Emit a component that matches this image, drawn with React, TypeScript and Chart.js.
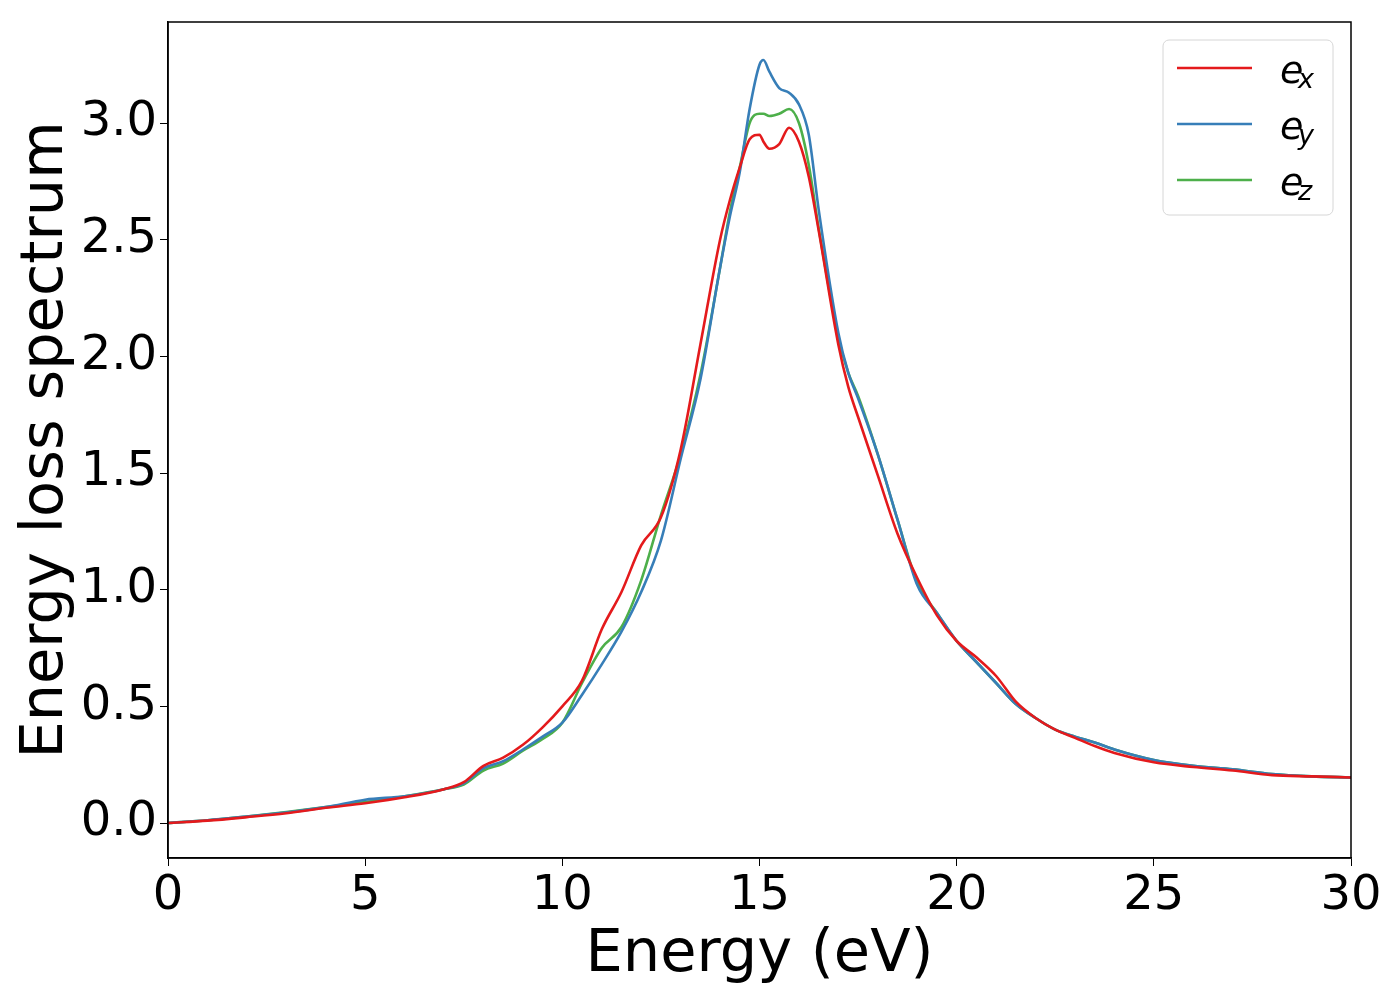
import React, { useEffect, useRef } from "react";
import { Chart, registerables, Plugin } from "chart.js";

Chart.register(...registerables);

// photon energy grid (eV)
const energies = [
  0, 1, 2, 3, 4, 5, 6, 7, 7.5, 8, 8.5, 9, 9.5, 10, 10.5, 11, 11.5, 12, 12.5, 13, 13.5, 14,
  14.25, 14.5, 14.75, 15, 15.1, 15.25, 15.5, 15.75, 16, 16.25, 16.5, 17, 17.25, 17.5, 18,
  18.5, 19, 19.5, 20, 20.5, 21, 21.5, 22, 22.5, 23, 23.5, 24, 25, 26, 27, 28, 29, 30,
];

const lossX = [
  0, 0.01, 0.025, 0.042, 0.065, 0.085, 0.11, 0.145, 0.175, 0.245, 0.28, 0.335, 0.41, 0.5,
  0.61, 0.83, 0.99, 1.19, 1.31, 1.6, 2.05, 2.5, 2.67, 2.81, 2.93, 2.95, 2.92, 2.89, 2.91,
  2.98, 2.92, 2.77, 2.54, 2.05, 1.87, 1.74, 1.49, 1.24, 1.05, 0.89, 0.78, 0.71, 0.63, 0.52,
  0.45, 0.4, 0.365, 0.33, 0.3, 0.26, 0.24, 0.225, 0.205, 0.2, 0.195,
];

const lossY = [
  0, 0.012, 0.028, 0.045, 0.068, 0.1, 0.115, 0.145, 0.17, 0.235, 0.265, 0.315, 0.37, 0.43,
  0.55, 0.68, 0.82, 0.99, 1.21, 1.56, 1.9, 2.38, 2.6, 2.79, 3.06, 3.25, 3.27, 3.22, 3.15,
  3.13, 3.08, 2.95, 2.63, 2.1, 1.93, 1.82, 1.58, 1.3, 1.02, 0.9, 0.78, 0.69, 0.6, 0.51,
  0.45, 0.4, 0.37, 0.345, 0.315, 0.27, 0.245, 0.23, 0.21, 0.2, 0.195,
];

const lossZ = [
  0, 0.012, 0.028, 0.047, 0.068, 0.09, 0.115, 0.145, 0.165, 0.225, 0.255, 0.31, 0.36, 0.43,
  0.6, 0.75, 0.84, 1.04, 1.32, 1.58, 1.92, 2.38, 2.62, 2.81, 3.0, 3.04, 3.04, 3.03, 3.04,
  3.06, 3.0, 2.82, 2.55, 2.08, 1.93, 1.83, 1.58, 1.3, 1.03, 0.9, 0.78, 0.69, 0.6, 0.51,
  0.45, 0.4, 0.37, 0.345, 0.315, 0.27, 0.245, 0.23, 0.21, 0.2, 0.195,
];

const subscripts = ["x", "y", "z"];
const colors = ["#e41a1c", "#377eb8", "#4daf4a"];

const FONT = "'DejaVu Sans', sans-serif";

// full box around the plot area, like matplotlib spines
const framePlugin: Plugin<"line"> = {
  id: "frame",
  afterDraw(chart) {
    const { ctx, chartArea: a } = chart;
    ctx.save();
    ctx.strokeStyle = "#000";
    ctx.lineWidth = 1.5;
    ctx.strokeRect(a.left, a.top, a.right - a.left, a.bottom - a.top);
    ctx.restore();
  },
};

// legend drawn inside the axes, upper right
const legendPlugin: Plugin<"line"> = {
  id: "innerLegend",
  afterDraw(chart) {
    const { ctx, chartArea: a } = chart;
    const w = 170;
    const h = 175;
    const x0 = a.right - 18 - w;
    const y0 = a.top + 18;
    ctx.save();
    ctx.beginPath();
    ctx.roundRect(x0, y0, w, h, 6);
    ctx.fillStyle = "rgba(255,255,255,0.8)";
    ctx.fill();
    ctx.strokeStyle = "#d6d6d6";
    ctx.lineWidth = 1;
    ctx.stroke();
    chart.data.datasets.forEach((ds, i) => {
      const y = y0 + 28 + i * 56;
      ctx.beginPath();
      ctx.moveTo(x0 + 14, y);
      ctx.lineTo(x0 + 89, y);
      ctx.strokeStyle = ds.borderColor as string;
      ctx.lineWidth = 2.5;
      ctx.stroke();
      ctx.fillStyle = "#000";
      ctx.textBaseline = "alphabetic";
      ctx.font = `italic 38px ${FONT}`;
      ctx.fillText("e", x0 + 117, y + 15);
      ctx.font = `italic 27px ${FONT}`;
      ctx.fillText(subscripts[i], x0 + 135, y + 20);
    });
    ctx.restore();
  },
};

export default function App() {
  const canvasRef = useRef<HTMLCanvasElement>(null);

  useEffect(() => {
    document.body.style.margin = "0";
    const ctx = canvasRef.current?.getContext("2d");
    if (!ctx) return;

    const series = [lossX, lossY, lossZ];
    const chart = new Chart(ctx, {
      type: "line",
      data: {
        datasets: series.map((vals, i) => ({
          label: "e" + subscripts[i],
          data: energies.map((e, j) => ({ x: e, y: vals[j] })),
          borderColor: colors[i],
          borderWidth: 2.6,
          pointRadius: 0,
          cubicInterpolationMode: "monotone" as const,
          fill: false,
        })),
      },
      options: {
        responsive: true,
        maintainAspectRatio: false,
        animation: false,
        devicePixelRatio: 1,
        layout: { padding: { top: 22, right: 49, left: 0, bottom: 0 } },
        plugins: {
          legend: { display: false },
          tooltip: { enabled: false },
        },
        scales: {
          x: {
            type: "linear",
            min: 0,
            max: 30,
            ticks: {
              stepSize: 5,
              color: "#000",
              font: { family: FONT, size: 48 },
              padding: 2,
              maxRotation: 0,
            },
            grid: { drawOnChartArea: false, drawTicks: true, tickLength: 8, color: "#000" },
            border: { display: true, color: "#000", width: 1.5 },
            title: {
              display: true,
              text: "Energy (eV)",
              color: "#000",
              font: { family: FONT, size: 59 },
              padding: { top: 0, bottom: 9 },
            },
            afterFit(scale) {
              scale.height = 142;
              scale.paddingLeft = 0;
              scale.paddingRight = 0;
            },
          },
          y: {
            min: -0.15,
            max: 3.433,
            ticks: {
              stepSize: 0.5,
              includeBounds: false,
              color: "#000",
              font: { family: FONT, size: 48 },
              padding: 3,
              callback: (v) => Number(v).toFixed(1),
            },
            grid: { drawOnChartArea: false, drawTicks: true, tickLength: 8, color: "#000" },
            border: { display: true, color: "#000", width: 1.5 },
            title: {
              display: true,
              text: "Energy loss spectrum",
              color: "#000",
              font: { family: FONT, size: 59 },
              padding: { top: 11, bottom: 0 },
            },
            afterFit(scale) {
              scale.width = 168;
              scale.paddingTop = 0;
              scale.paddingBottom = 0;
            },
          },
        },
      },
      plugins: [framePlugin, legendPlugin],
    });

    return () => chart.destroy();
  }, []);

  return (
    <div style={{ width: 1400, height: 1000, position: "relative", background: "#fff" }}>
      <canvas ref={canvasRef} />
    </div>
  );
}
